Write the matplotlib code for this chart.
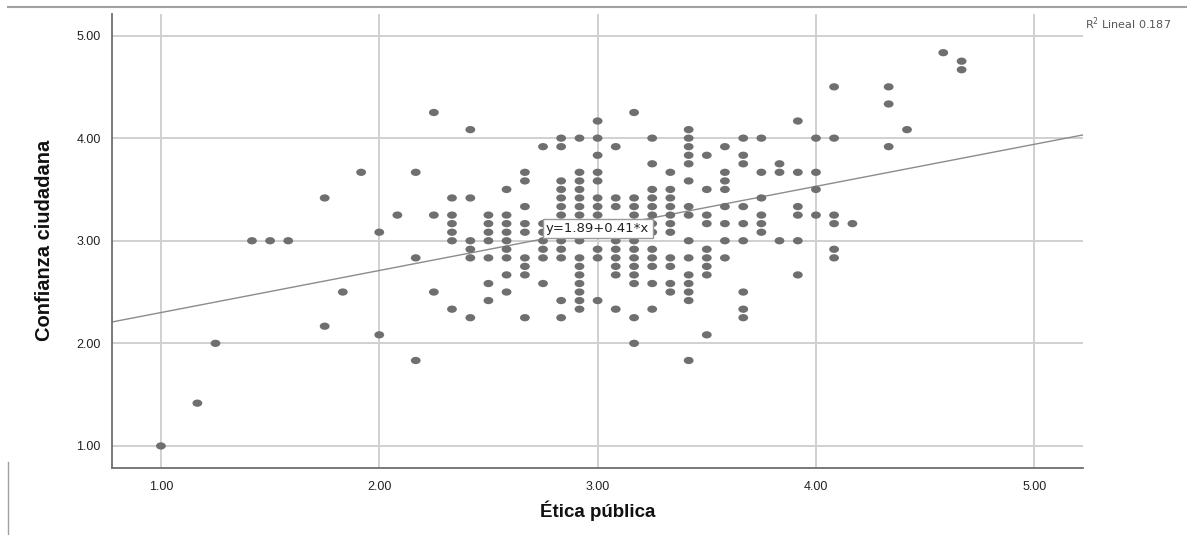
import numpy as np
import matplotlib
matplotlib.use("Agg")
import matplotlib.pyplot as plt
from matplotlib.path import Path
from matplotlib.lines import Line2D
from matplotlib import font_manager

# ---------------- data ----------------
etica_niveles = [1.0, 1.167, 1.25, 1.417, 1.5, 1.583, 1.75, 1.833, 1.917, 2.0,
                 2.083, 2.167, 2.25, 2.333, 2.417, 2.5, 2.583, 2.667, 2.75, 2.833,
                 2.917, 3.0, 3.083, 3.167, 3.25, 3.333, 3.417, 3.5, 3.583, 3.667,
                 3.75, 3.833, 3.917, 4.0, 4.083, 4.167, 4.333, 4.417, 4.583, 4.667]
n_por_nivel = [1, 1, 1, 1, 1, 1, 2, 1, 1, 2,
               1, 3, 3, 6, 6, 7, 9, 9, 7, 14,
               17, 11, 9, 14, 13, 11, 15, 9, 8, 9,
               6, 3, 6, 4, 6, 1, 3, 1, 1, 2]
confianza = [
    1.0,
    1.417,
    2.0,
    3.0,
    3.0,
    3.0,
    3.417, 2.167,
    2.5,
    3.667,
    3.083, 2.083,
    3.25,
    3.667, 2.833, 1.833,
    4.25, 3.25, 2.5,
    3.417, 3.25, 3.167, 3.083, 3.0, 2.333,
    4.083, 3.417, 3.0, 2.917, 2.833, 2.25,
    3.25, 3.167, 3.083, 3.0, 2.833, 2.583, 2.417,
    3.5, 3.25, 3.167, 3.083, 3.0, 2.917, 2.833, 2.667, 2.5,
    3.667, 3.583, 3.333, 3.167, 3.083, 2.833, 2.75, 2.667, 2.25,
    3.917, 3.167, 3.083, 3.0, 2.917, 2.833, 2.583,
    4.0, 3.917, 3.583, 3.5, 3.417, 3.333, 3.25, 3.167, 3.083, 3.0, 2.917, 2.833, 2.417, 2.25,
    4.0, 3.667, 3.583, 3.5, 3.417, 3.333, 3.25, 3.167, 3.083, 3.0, 2.833, 2.75, 2.667, 2.583, 2.5, 2.417, 2.333,
    4.167, 4.0, 3.833, 3.667, 3.583, 3.417, 3.333, 3.25, 2.917, 2.833, 2.417,
    3.917, 3.417, 3.333, 3.0, 2.917, 2.833, 2.75, 2.667, 2.333,
    4.25, 3.417, 3.333, 3.25, 3.167, 3.083, 3.0, 2.917, 2.833, 2.75, 2.667, 2.583, 2.25, 2.0,
    4.0, 3.75, 3.5, 3.417, 3.333, 3.25, 3.167, 3.083, 2.917, 2.833, 2.75, 2.583, 2.333,
    3.667, 3.5, 3.417, 3.333, 3.25, 3.167, 3.083, 2.833, 2.75, 2.583, 2.5,
    4.083, 4.0, 3.917, 3.833, 3.75, 3.583, 3.333, 3.25, 3.0, 2.833, 2.667, 2.583, 2.5, 2.417, 1.833,
    3.833, 3.5, 3.25, 3.167, 2.917, 2.833, 2.75, 2.667, 2.083,
    3.917, 3.667, 3.583, 3.5, 3.333, 3.167, 3.0, 2.833,
    4.0, 3.833, 3.75, 3.333, 3.167, 3.0, 2.5, 2.333, 2.25,
    4.0, 3.667, 3.417, 3.25, 3.167, 3.083,
    3.75, 3.667, 3.0,
    4.167, 3.667, 3.333, 3.25, 3.0, 2.667,
    4.0, 3.667, 3.5, 3.25,
    4.5, 4.0, 3.25, 3.167, 2.917, 2.833,
    3.167,
    4.5, 4.333, 3.917,
    4.083,
    4.833,
    4.75, 4.667,
]
ticks = [1.0, 2.0, 3.0, 4.0, 5.0]
tick_labels = ["1.00", "2.00", "3.00", "4.00", "5.00"]
intercepto = 1.89
pendiente = 0.41
r2 = 0.187
x_label = "Ética pública"
y_label = "Confianza ciudadana"

assert sum(n_por_nivel) == len(confianza)
etica = np.repeat(etica_niveles, n_por_nivel)

# ---------------- fonts ----------------
avail = {f.name for f in font_manager.fontManager.ttflist}
narrow = "Liberation Sans Narrow" if "Liberation Sans Narrow" in avail else "Liberation Sans"
plt.rcParams['font.family'] = [narrow, 'DejaVu Sans']

# ---------------- figure ----------------
W, H = 1187, 535
fig = plt.figure(figsize=(W / 100, H / 100), dpi=100)
ax = fig.add_axes([112 / W, 1 - 468 / H, (1083 - 112) / W, (468 - 14) / H])

xlim = (0.776, 5.223)
ylim = (0.785, 5.21)
ax.set_xlim(*xlim)
ax.set_ylim(*ylim)

grid_c = "#d0d0d0"
for t in ticks:
    ax.axhline(t, color=grid_c, lw=1.4, zorder=0)
    ax.axvline(t, color=grid_c, lw=1.4, zorder=0)

# elliptical marker
circ = Path.unit_circle()
ell = Path(circ.vertices * np.array([1.35, 1.0]), circ.codes)
ax.scatter(etica, confianza, marker=ell, s=50, color="#6f6f6f",
           edgecolors="none", zorder=3)

# fit line
xl = np.array(xlim)
ax.plot(xl, intercepto + pendiente * xl, color="#8c8c8c", lw=1.0, zorder=2)

# equation label on the line at x = 3
ax.text(3.0, intercepto + pendiente * 3.0, f"y={intercepto:.2f}+{pendiente:.2f}*x",
        ha="center", va="center", fontsize=9.5, family="DejaVu Sans",
        color="#222222", zorder=5,
        bbox=dict(boxstyle="square,pad=0.25", fc="white", ec="#9a9a9a", lw=1.0))

ax.set_xticks(ticks)
ax.set_xticklabels(tick_labels)
ax.set_yticks(ticks)
ax.set_yticklabels(tick_labels)
ax.tick_params(length=0, labelsize=9, colors="#222222")
ax.tick_params(axis="x", pad=9)
ax.tick_params(axis="y", pad=8)

for s in ["top", "right"]:
    ax.spines[s].set_visible(False)
for s in ["left", "bottom"]:
    ax.spines[s].set_color("#6e6e6e")
    ax.spines[s].set_linewidth(1.3)

fig.text(598 / W, 1 - 511 / H, x_label, ha="center", va="center",
         fontsize=13.5, fontweight="bold", color="#111111")
fig.text(45 / W, 1 - 240 / H, y_label, ha="center", va="center",
         rotation=90, fontsize=14.5, fontweight="bold", color="#111111")

fig.text(1085 / W, 1 - 24 / H, f"R$^2$ Lineal {r2:.3f}", ha="left", va="center",
         fontsize=8, family="DejaVu Sans", color="#555555")

# outer frame lines (top and lower-left)
fig.add_artist(Line2D([8 / W, 1], [1 - 7 / H, 1 - 7 / H], transform=fig.transFigure,
                      color="#a0a0a0", lw=1.5))
fig.add_artist(Line2D([8 / W, 8 / W], [0, 1 - 462 / H], transform=fig.transFigure,
                      color="#a0a0a0", lw=1.0))

fig.savefig("out.png", dpi=100, facecolor="white")
